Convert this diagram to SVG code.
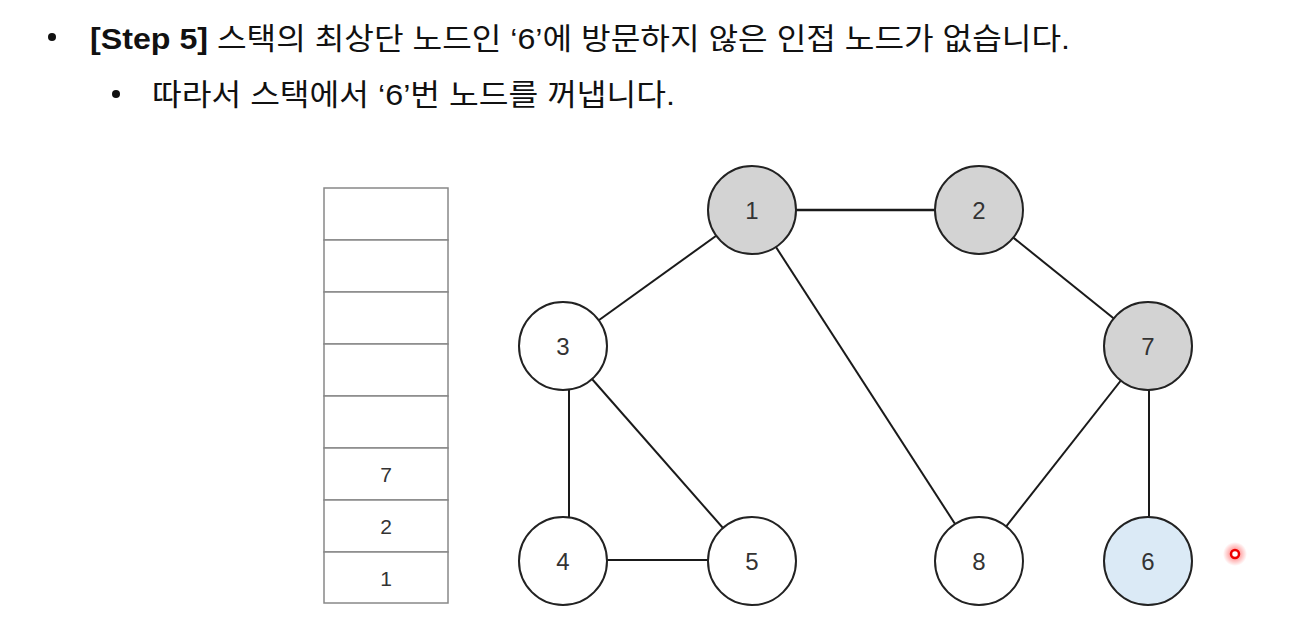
<svg xmlns="http://www.w3.org/2000/svg" width="1300" height="626" viewBox="0 0 1300 626">
<defs>
<radialGradient id="glow"><stop offset="0" stop-color="#ff0000" stop-opacity="0.6"/><stop offset="1" stop-color="#ff0000" stop-opacity="0"/></radialGradient>
</defs>
<style>
.t{font-family:"Liberation Sans","Noto Sans CJK KR",sans-serif;font-size:30px;fill:#111}
.b{font-weight:bold}
.cell{fill:#fff;stroke:#888;stroke-width:1.5}
.n{stroke:#222;stroke-width:2}
.w{fill:#fff}.g{fill:#d3d3d3}.bl{fill:#dbeaf6}
.lbl{font-family:"Liberation Sans","Noto Sans",sans-serif;font-size:24px;fill:#333;text-anchor:middle;dominant-baseline:central}
.e{stroke:#1a1a1a;stroke-width:2;fill:none}
</style>
<rect width="1300" height="626" fill="#fff"/>
<g id="title">
<circle cx="52" cy="37" r="4" fill="#111"/>
<text class="t" x="90" y="49" textLength="980" lengthAdjust="spacingAndGlyphs"><tspan class="b">[Step 5]</tspan> 스택의 최상단 노드인 ‘6’에 방문하지 않은 인접 노드가 없습니다.</text>
<circle cx="116" cy="94" r="4" fill="#111"/>
<text class="t" x="152" y="105" textLength="523" lengthAdjust="spacingAndGlyphs">따라서 스택에서 ‘6’번 노드를 꺼냅니다.</text>
</g>
<g id="stack">
<rect class="cell" x="324" y="188" width="124" height="52"/>
<rect class="cell" x="324" y="240" width="124" height="52"/>
<rect class="cell" x="324" y="292" width="124" height="52"/>
<rect class="cell" x="324" y="344" width="124" height="52"/>
<rect class="cell" x="324" y="396" width="124" height="52"/>
<rect class="cell" x="324" y="448" width="124" height="52"/>
<rect class="cell" x="324" y="500" width="124" height="52"/>
<rect class="cell" x="324" y="552" width="124" height="51"/>
<text class="lbl" x="386" y="474" style="font-size:21px">7</text>
<text class="lbl" x="386" y="526" style="font-size:21px">2</text>
<text class="lbl" x="386" y="578" style="font-size:21px">1</text>
</g>
<g id="edges">
<line class="e" x1="752" y1="210" x2="979" y2="210" style="stroke-width:2.5"/>
<line class="e" x1="752" y1="210" x2="563" y2="346"/>
<line class="e" x1="752" y1="210" x2="979" y2="561"/>
<line class="e" x1="979" y1="210" x2="1148" y2="346"/>
<line class="e" x1="569" y1="346" x2="569" y2="561"/>
<line class="e" x1="563" y1="346" x2="752" y2="561"/>
<line class="e" x1="563" y1="560" x2="752" y2="560"/>
<line class="e" x1="1148" y1="346" x2="979" y2="561"/>
<line class="e" x1="1149" y1="346" x2="1149" y2="561"/>
</g>
<g id="node1"><circle class="n g" cx="752" cy="210" r="44"/><text class="lbl" x="752" y="210">1</text></g>
<g id="node2"><circle class="n g" cx="979" cy="210" r="44"/><text class="lbl" x="979" y="210">2</text></g>
<g id="node3"><circle class="n w" cx="563" cy="346" r="44"/><text class="lbl" x="563" y="346">3</text></g>
<g id="node7"><circle class="n g" cx="1148" cy="346" r="44"/><text class="lbl" x="1148" y="346">7</text></g>
<g id="node4"><circle class="n w" cx="563" cy="561" r="44"/><text class="lbl" x="563" y="561">4</text></g>
<g id="node5"><circle class="n w" cx="752" cy="561" r="44"/><text class="lbl" x="752" y="561">5</text></g>
<g id="node8"><circle class="n w" cx="979" cy="561" r="44"/><text class="lbl" x="979" y="561">8</text></g>
<g id="node6"><circle class="n bl" cx="1148" cy="561" r="44"/><text class="lbl" x="1148" y="561">6</text></g>
<g id="cursor">
<circle cx="1235" cy="554" r="12" fill="url(#glow)"/>
<circle cx="1235" cy="554" r="4" fill="#fff" stroke="#e00" stroke-width="2.5"/>
</g>
</svg>
